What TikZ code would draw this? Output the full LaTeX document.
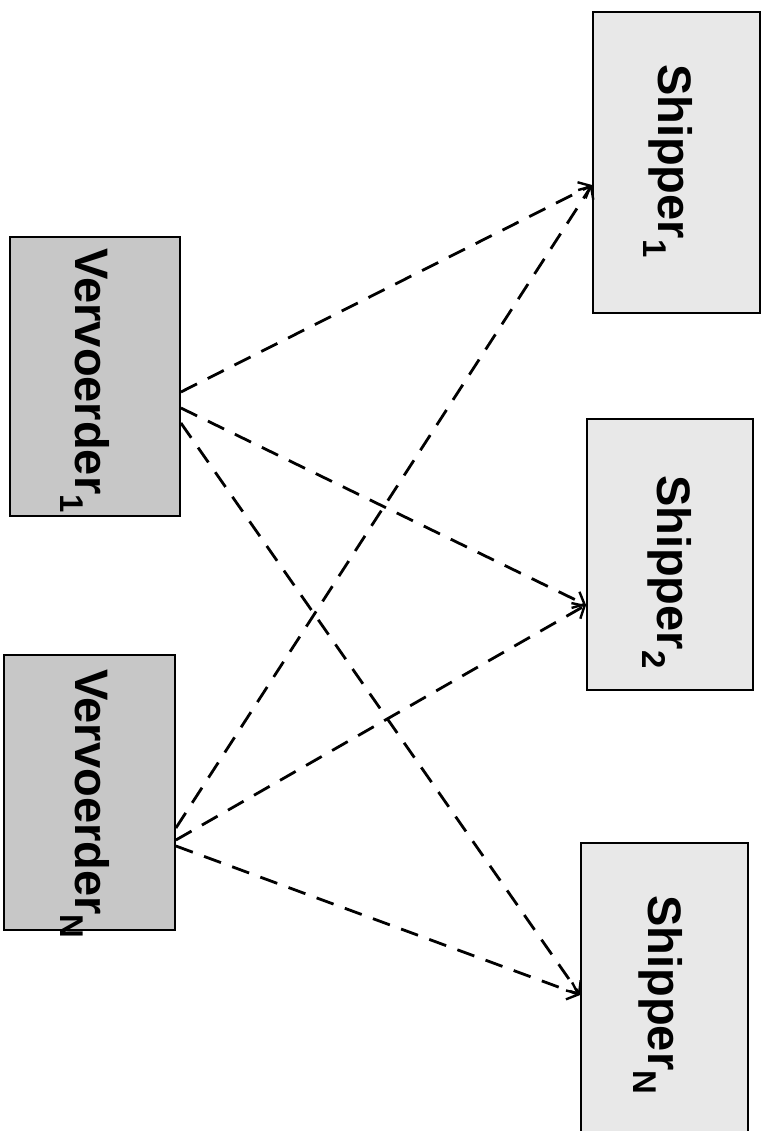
\documentclass[tikz,border=0pt]{standalone}
\usepackage{fontspec}
\setmainfont{Liberation Sans}
\usetikzlibrary{arrows.meta}
\begin{document}
\begin{tikzpicture}[x=1pt,y=-1pt,
  vbox/.style={draw=black,line width=1.8pt,fill=black!22,inner sep=0pt},
  sbox/.style={draw=black,line width=1.8pt,fill=black!9,inner sep=0pt},
  lbl/.style={rotate=-90,anchor=base,inner sep=0pt,font=\fontsize{47}{50}\selectfont\bfseries},
  link/.style={line width=2.8pt,dash pattern=on 18pt off 12pt,-{Straight Barb[length=10pt,width=18pt,line width=2.4pt]}}]
\useasboundingbox (0,0) rectangle (768,1131);
\begin{scope}
\clip (0,0) rectangle (768,1131);
% boxes
\node[vbox,minimum width=170pt,minimum height=279pt] (v1) at (95,376.5) {};
\node[vbox,minimum width=171pt,minimum height=275pt] (vn) at (89.5,792.5) {};
\node[sbox,minimum width=167pt,minimum height=301pt] (s1) at (676.5,162.5) {};
\node[sbox,minimum width=166pt,minimum height=271pt] (s2) at (670,554.5) {};
\node[sbox,minimum width=167pt,minimum height=302pt] (sn) at (664.5,994) {};
% labels
\node[lbl] (t1) at (75,381) {Vervoerder\textsubscript{1}};
\node[lbl] (tn) at (75,804) {Vervoerder\textsubscript{N}};
\node[lbl] (u1) at (658,161) {Shipper\textsubscript{1}};
\node[lbl] (u2) at (657,572) {Shipper\textsubscript{2}};
\node[lbl] (un) at (648,995) {Shipper\textsubscript{N}};
% connectors
\draw[link] ([yshift=-15.5pt]v1.east) -- ([yshift=-22.5pt]s1.west);
\draw[link] ([yshift=-31.5pt]v1.east) -- ([yshift=-50.5pt]s2.west);
\draw[link] ([yshift=-46.5pt]v1.east) -- ([yshift=-1pt]sn.west);
\draw[link] ([yshift=-35.5pt]vn.east) -- ([yshift=-22.5pt]s1.west);
\draw[link] ([yshift=-47.5pt]vn.east) -- ([yshift=-50.5pt]s2.west);
\draw[link] ([yshift=-53.5pt]vn.east) -- ([yshift=-1pt]sn.west);
\end{scope}
\end{tikzpicture}
\end{document}
